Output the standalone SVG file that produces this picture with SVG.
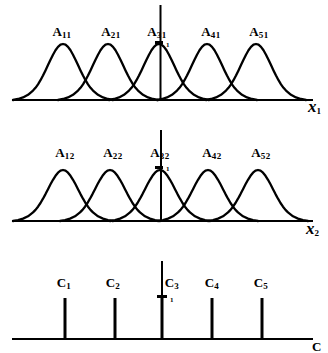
<svg xmlns="http://www.w3.org/2000/svg" xmlns:xlink="http://www.w3.org/1999/xlink" width="328" height="353" viewBox="0 0 328 353">
<style>
.ax{stroke:#000;stroke-width:2;fill:none}
.g{stroke:#000;stroke-width:2.3;fill:none;stroke-linejoin:round;stroke-linecap:round}
.stem{stroke:#000;stroke-width:3}
.lbl{font-family:"Liberation Serif",serif;font-weight:bold;font-size:13px;fill:#000}
.sub{font-size:9px;letter-spacing:0.5px}
.axl{font-family:"Liberation Serif",serif;font-weight:bold;font-style:italic;font-size:17px;fill:#000}
.one{font-family:"Liberation Serif",serif;font-weight:bold;font-size:7px;fill:#000}
</style>
<defs>
<path id="gauss" class="g" d="M-50,0 L-45,-1 -40,-2.6 -35,-5.2 -30,-9.4 -27.5,-12.2 -25,-15.7 -22.5,-19.8 -20,-24.5 -17.5,-29.6 -15,-34.9 -12.5,-40.3 -10,-45.3 -7.5,-49.7 -5,-53.1 -2.5,-55.3 0,-56 2.5,-55.3 5,-53.1 7.5,-49.7 10,-45.3 12.5,-40.3 15,-34.9 17.5,-29.6 20,-24.5 22.5,-19.8 25,-15.7 27.5,-12.2 30,-9.4 35,-5.2 40,-2.6 45,-1 50,0"/>
<path id="gauss2" class="g" d="M-50,0 L-45,-0.9 -40,-2.4 -35,-4.7 -30,-8.6 -27.5,-11.1 -25,-14.3 -22.5,-18 -20,-22.3 -17.5,-26.9 -15,-31.8 -12.5,-36.7 -10,-41.2 -7.5,-45.2 -5,-48.3 -2.5,-50.3 0,-51 2.5,-50.3 5,-48.3 7.5,-45.2 10,-41.2 12.5,-36.7 15,-31.8 17.5,-26.9 20,-22.3 22.5,-18 25,-14.3 27.5,-11.1 30,-8.6 35,-4.7 40,-2.4 45,-0.9 50,0"/>
</defs>

<g id="axes">
  <line class="ax" x1="12" y1="100" x2="313" y2="100"/>
  <line class="ax" x1="160.5" y1="5" x2="160.5" y2="100"/>
  <line class="ax" x1="12" y1="221" x2="313" y2="221"/>
  <line class="ax" x1="161" y1="130" x2="161" y2="221"/>
  <line class="ax" x1="12" y1="339" x2="313" y2="339"/>
  <line class="ax" x1="162" y1="261" x2="162" y2="339"/>
  <text class="axl" x="308" y="112">x<tspan class="sub" dy="2" font-style="normal">1</tspan></text>
  <text class="axl" x="306" y="234">x<tspan class="sub" dy="2" font-style="normal">2</tspan></text>
  <text class="lbl" x="312" y="351">C</text>
</g>

<g id="A11"><use xlink:href="#gauss" x="63" y="100"/><text class="lbl" x="62" y="36" text-anchor="middle">A<tspan class="sub" dy="2">11</tspan></text></g>
<g id="A21"><use xlink:href="#gauss" x="108" y="100"/><text class="lbl" x="111" y="36" text-anchor="middle">A<tspan class="sub" dy="2">21</tspan></text></g>
<g id="A31"><use xlink:href="#gauss" x="159" y="100"/><text class="lbl" x="157" y="36" text-anchor="middle">A<tspan class="sub" dy="2">31</tspan></text>
  <rect x="155" y="41" width="8" height="3"/><text class="one" x="166" y="47">1</text></g>
<g id="A41"><use xlink:href="#gauss" x="207" y="100"/><text class="lbl" x="211" y="36" text-anchor="middle">A<tspan class="sub" dy="2">41</tspan></text></g>
<g id="A51"><use xlink:href="#gauss" x="256" y="100"/><text class="lbl" x="259" y="36" text-anchor="middle">A<tspan class="sub" dy="2">51</tspan></text></g>

<g id="A12"><use xlink:href="#gauss2" x="63" y="221"/><text class="lbl" x="65" y="157" text-anchor="middle">A<tspan class="sub" dy="2">12</tspan></text></g>
<g id="A22"><use xlink:href="#gauss2" x="110" y="221"/><text class="lbl" x="113" y="157" text-anchor="middle">A<tspan class="sub" dy="2">22</tspan></text></g>
<g id="A32"><use xlink:href="#gauss2" x="160" y="221"/><text class="lbl" x="160" y="157" text-anchor="middle">A<tspan class="sub" dy="2">32</tspan></text>
  <rect x="155" y="166" width="8" height="3"/><text class="one" x="166" y="171">1</text></g>
<g id="A42"><use xlink:href="#gauss2" x="208" y="221"/><text class="lbl" x="212" y="157" text-anchor="middle">A<tspan class="sub" dy="2">42</tspan></text></g>
<g id="A52"><use xlink:href="#gauss2" x="258" y="221"/><text class="lbl" x="261" y="157" text-anchor="middle">A<tspan class="sub" dy="2">52</tspan></text></g>

<g id="C1"><line class="stem" x1="65" y1="298" x2="65" y2="339"/><text class="lbl" x="64" y="287" text-anchor="middle">C<tspan class="sub" dy="2">1</tspan></text></g>
<g id="C2"><line class="stem" x1="115" y1="298" x2="115" y2="339"/><text class="lbl" x="113" y="287" text-anchor="middle">C<tspan class="sub" dy="2">2</tspan></text></g>
<g id="C3"><line class="stem" x1="162" y1="298" x2="162" y2="339"/><text class="lbl" x="172" y="287" text-anchor="middle">C<tspan class="sub" dy="2">3</tspan></text>
  <rect x="157" y="295" width="10" height="3"/><text class="one" x="170" y="302">1</text></g>
<g id="C4"><line class="stem" x1="212" y1="298" x2="212" y2="339"/><text class="lbl" x="212" y="287" text-anchor="middle">C<tspan class="sub" dy="2">4</tspan></text></g>
<g id="C5"><line class="stem" x1="262" y1="298" x2="262" y2="339"/><text class="lbl" x="261" y="287" text-anchor="middle">C<tspan class="sub" dy="2">5</tspan></text></g>
</svg>
